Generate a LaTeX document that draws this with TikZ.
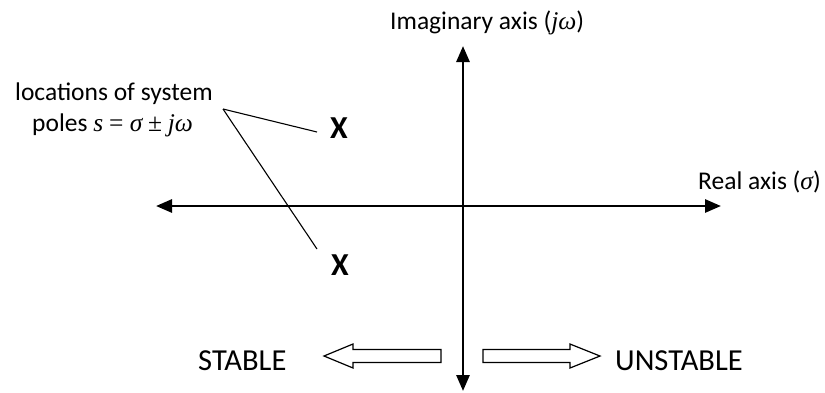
\documentclass[tikz,border=0pt]{standalone}
\usepackage{fontspec}
\setmainfont{Carlito}
\newfontfamily\tms{Liberation Serif}
\usetikzlibrary{arrows.meta}
\begin{document}
\begin{tikzpicture}[x=1pt,y=-1pt,
  axis/.style={line width=2.8pt,-{Triangle[width=13pt,length=16pt]}},
  lbl/.style={font=\fontsize{25.5}{28}\selectfont, inner sep=0pt, anchor=base west},
  biglbl/.style={font=\fontsize{30.5}{34}\selectfont, inner sep=0pt, anchor=base west},
  polemark/.style={font=\bfseries\fontsize{32}{36}\selectfont, inner sep=0pt},
  callout/.style={line width=1.1pt},
  hollow/.style={draw=black, line width=1.2pt, fill=white}]
\useasboundingbox (0,0) rectangle (825,392);
% axes
\coordinate (vtop) at (463,46);
\coordinate (vbot) at (463,391);
\coordinate (hleft) at (156,206);
\coordinate (hright) at (721,206);
\coordinate (orig) at (463,206);
\draw[axis] (orig) -- (vtop);
\draw[axis] (orig) -- (vbot);
\draw[axis] (orig) -- (hleft);
\draw[axis] (orig) -- (hright);
% labels
\node[lbl] (imag) at (390,29) {Imaginary axis ({\tms\itshape jω})};
\node[lbl] (real) at (698,189) {Real axis ({\tms\itshape σ})};
\node[lbl] (loc1) at (15,100) {locations of system};
\node[lbl] (loc2) at (32,131) {poles {\tms\itshape s} {\tms= \itshape σ} {\tms±} {\tms\itshape jω}};
% poles
\node[polemark] (p1) at (339,128) {X};
\node[polemark] (p2) at (340,265) {X};
\coordinate (cstart) at (223,109);
\coordinate (c1) at (317,132);
\coordinate (c2) at (317,249);
\draw[callout] (cstart) -- (c1);
\draw[callout] (cstart) -- (c2);
% stable / unstable
\node[biglbl] (stable) at (198,370) {STABLE};
\node[biglbl] (unstable) at (615,370) {UNSTABLE};
\draw[hollow] (324,356) -- (353,344) -- (353,349.5) -- (441,349.5) -- (441,362.5) -- (353,362.5) -- (353,368) -- cycle;
\draw[hollow] (600,356) -- (570,344) -- (570,349.5) -- (483,349.5) -- (483,362.5) -- (570,362.5) -- (570,368) -- cycle;
\end{tikzpicture}
\end{document}
